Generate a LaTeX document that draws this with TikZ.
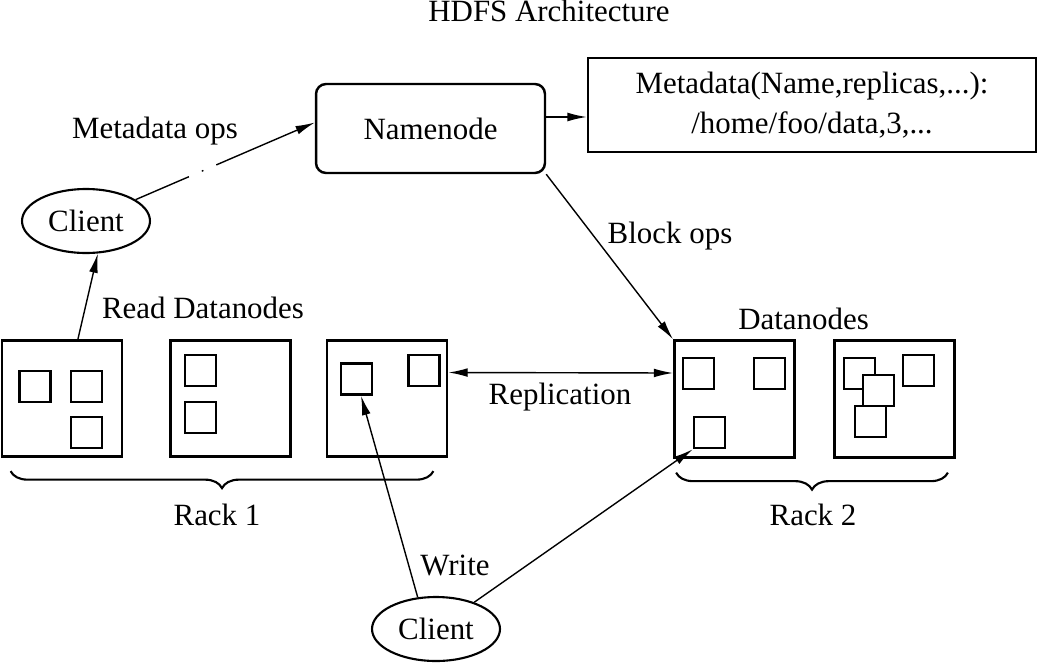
\documentclass[tikz,border=0pt]{standalone}
\usepackage{fontspec}
\setmainfont{Liberation Serif}
\usetikzlibrary{arrows.meta,shapes.geometric,decorations.pathreplacing,calc}
\begin{document}
\begin{tikzpicture}[x=0.02cm, y=0.02cm]
					\tikzstyle{every node}+=[inner sep=0pt, font=\fontsize{17.6}{22.8}\selectfont]
					\tikzstyle{rack box}=[draw, line width=1.6pt, minimum width=2.4cm, minimum height=2.33cm]
					\tikzstyle{blk}=[draw, fill=white, line width=1.5pt, minimum size=0.62cm]
					\tikzstyle{client}=[draw, ellipse, line width=1.2pt, minimum width=2.56cm, minimum height=1.28cm]
					\tikzstyle{arr}=[line width=0.8pt, >={Latex[length=11pt,width=5pt]}]
					\tikzstyle{rack}=[decorate, decoration={brace, mirror, amplitude=0.34cm}, line width=1.2pt]
					\useasboundingbox (0,0) rectangle (1047,-663);
					\node (title) at (549,-11) {HDFS Architecture};
					\node [draw, line width=1.4pt, rounded corners=0.2cm, minimum width=4.58cm, minimum height=1.78cm] (nn) at (430.5,-128.5) {Namenode};
					\node [draw, line width=1.4pt, align=center, minimum width=8.96cm, minimum height=1.88cm] (md) at (812,-105) {Metadata(Name,replicas,...):\\/home/foo/data,3,...};
					\node [client] (c1) at (86,-221) {Client};
					\node [client] (c2) at (436,-629) {Client};
					
					\node [rack box] (r1a) at (62,-398.5) {};
					\node [rack box] (r1b) at (230.5,-398.5) {};
					\node [rack box] (r1c) at (387,-398.5) {};
					\node [rack box] (r2a) at (734.5,-399) {};
					\node [rack box] (r2b) at (894.5,-399) {};
					\foreach \n/\x/\y in {b1/35/386.5, b2/86.5/386.5, b3/86.5/432.5, b4/200.5/370.5, b5/200.5/417.5, w1/356.5/379, b6/424/370.5, b7/698.5/373.5, b8/769.5/373.5, w2/709.5/432.5, b9/859.5/373.5, b10/878.5/390.5, b11/870.5/421.5, b12/918.5/370.5}
						\node [blk] (\n) at (\x,-\y) {};
					
					\draw [rack] ($(r1a.south west)+(10,-13)$) -- ($(r1c.south east)+(-15,-13)$);
					\draw [rack] ($(r2a.south west)+(3,-14)$) -- ($(r2b.south east)+(-8,-14)$);
					\node (rk1) at (217,-515) {Rack 1};
					\node (rk2) at (813,-515) {Rack 2};
					
					\draw [arr, ->, dash pattern=on 33pt off 8pt on 1pt off 8pt on 200pt] (c1) -- ($(nn.west)+(0,6)$);
					\node (lmo) at (155,-131) {Metadata ops};
					\draw [arr, ->] ($(nn.east)+(0,11.5)$) -- ($(md.west)+(0,-12)$);
					\draw [arr, ->] (nn.south east) -- (r2a.north west);
					\node (lbo) at (670,-236) {Block ops};
					\draw [arr, ->] (r1a.75) -- (c1.-70);
					\node (lrd) at (203,-308) {Read Datanodes};
					\node (ldn) at (803.5,-319) {Datanodes};
					\draw [arr, <->] ($(r1c.east)+(0,26)$) -- ($(r2a.west)+(0,26)$);
					\node (lrp) at (560,-397) {Replication};
					\draw [arr, ->] (c2.120) -- (w1.-75);
					\draw [arr, ->] (c2.35) -- (w2.south west);
					\node (lwr) at (455,-565) {Write};
				\end{tikzpicture}
\end{document}
